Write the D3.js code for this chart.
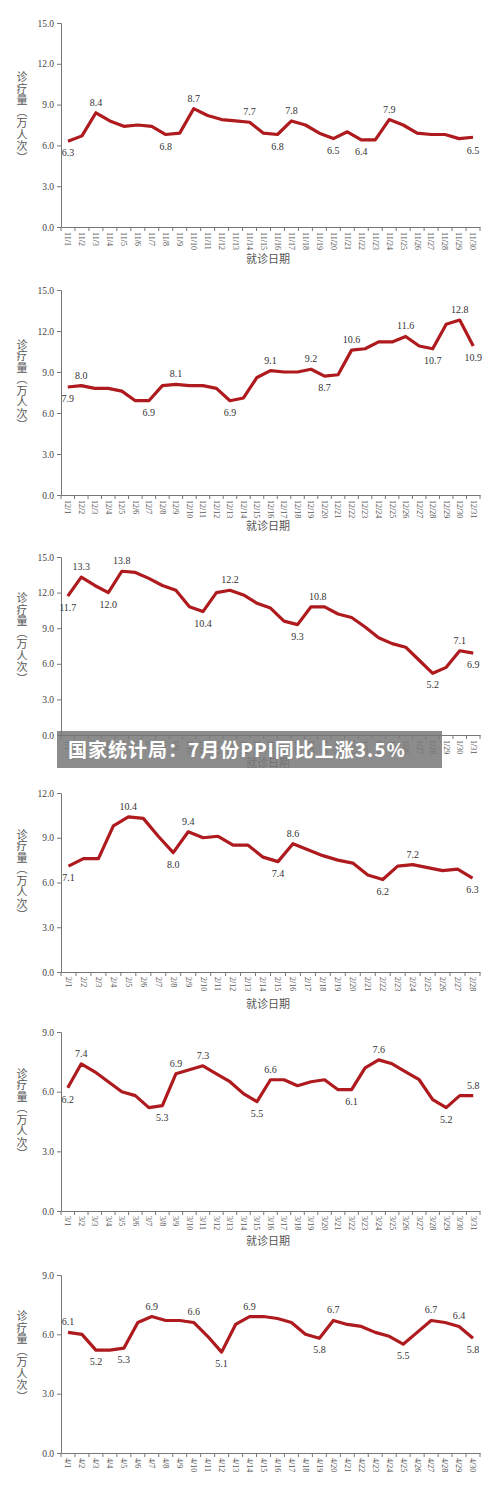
<!DOCTYPE html>
<html><head><meta charset="utf-8">
<script src="https://cdn.jsdelivr.net/npm/d3@7"></script>
<style>body{margin:0;background:#fff}svg{display:block}</style>
</head><body>
<svg id="c" width="500" height="1501"></svg>
<script>
const months = ["11","12","1","2","3","4"];
const dayCounts = [30,31,31,28,31,30];
const yMaxes = [15,15,15,12,9,9];
const v11 = [6.3,6.7,8.4,7.8,7.4,7.5,7.4,6.8,6.9,8.7,8.2,7.9,7.8,7.7,6.9,6.8,7.8,7.5,6.9,6.5,7.0,6.4,6.4,7.9,7.5,6.9,6.8,6.8,6.5,6.6];
const v12 = [7.9,8.0,7.8,7.8,7.6,6.9,6.9,8.0,8.1,8.0,8.0,7.8,6.9,7.1,8.6,9.1,9.0,9.0,9.2,8.7,8.8,10.6,10.7,11.2,11.2,11.6,10.9,10.7,12.5,12.8,10.9];
const v1 = [11.7,13.3,12.6,12.0,13.8,13.7,13.2,12.6,12.2,10.8,10.4,12.0,12.2,11.8,11.1,10.7,9.6,9.3,10.8,10.8,10.2,9.9,9.1,8.2,7.7,7.4,6.3,5.2,5.7,7.1,6.9];
const v2 = [7.1,7.6,7.6,9.8,10.4,10.3,9.1,8.0,9.4,9.0,9.1,8.5,8.5,7.7,7.4,8.6,8.2,7.8,7.5,7.3,6.5,6.2,7.1,7.2,7.0,6.8,6.9,6.3];
const v3 = [6.2,7.4,7.0,6.5,6.0,5.8,5.2,5.3,6.9,7.1,7.3,6.9,6.5,5.9,5.5,6.6,6.6,6.3,6.5,6.6,6.1,6.1,7.2,7.6,7.4,7.0,6.6,5.6,5.2,5.8,5.8];
const v4 = [6.1,6.0,5.2,5.2,5.3,6.6,6.9,6.7,6.7,6.6,5.9,5.1,6.5,6.9,6.9,6.8,6.6,6.0,5.8,6.7,6.5,6.4,6.1,5.9,5.5,6.1,6.7,6.6,6.4,5.8];
const seriesValues = [v11,v12,v1,v2,v3,v4];
const labelValues = [
 [6.3,8.4,6.8,8.7,7.7,6.8,7.8,6.5,6.4,7.9,6.5],
 [7.9,8.0,6.9,8.1,6.9,9.1,9.2,8.7,10.6,11.6,10.7,12.8,10.9],
 [11.7,13.3,12.0,13.8,10.4,12.2,9.3,10.8,5.2,7.1,6.9],
 [7.1,10.4,8.0,9.4,7.4,8.6,6.2,7.2,6.3],
 [6.2,7.4,5.3,6.9,7.3,5.5,6.6,6.1,7.6,5.2,5.8],
 [6.1,5.2,5.3,6.9,6.6,5.1,6.9,5.8,6.7,5.5,6.7,6.4,5.8]];
const labelIdx = [
 [0,2,7,9,13,15,16,19,21,23,29],
 [0,1,6,8,12,15,18,19,21,25,27,29,30],
 [0,1,3,4,10,12,17,18.5,27,29,30],
 [0,4,7,8,14,15,21,23,27],
 [0,1,7,8,10,14,15,21,23,28,30],
 [0,2,4,6,9,11,13,18,19,24,26,28,29]];
const labelAbove = [
 [0,1,0,1,1,0,1,0,0,1,0],
 [0,1,0,1,0,1,1,0,1,1,0,1,0],
 [0,1,0,1,0,1,0,1,0,1,0],
 [0,1,0,1,0,1,0,1,0],
 [0,1,0,1,1,0,1,0,1,0,1],
 [1,0,0,1,1,0,1,0,1,0,1,1,0]];
const yTicks = [0,3,6,9,12,15];
const xTitle = "就诊日期";
const yTitleChars = ["诊","疗","量","︵","万","人","次","︶"];
const banner = "国家统计局：7月份PPI同比上涨3.5%";

const panels = [[23,227,263],[290,495,530],[557,735,767],[793,972,1008],[1032,1211,1245],[1275,1453,1489]];
const svg = d3.select("#c");
const serif = "'Liberation Serif','Times New Roman',serif";
const red = "#ae1a1d";

panels.forEach(([top,bot,xt],p)=>{
  const n = dayCounts[p];
  const cats = d3.range(1,n+1).map(d=>months[p]+"/"+d);
  const x = d3.scaleBand().domain(cats).range([61,480]).padding(0);
  const y = d3.scaleLinear().domain([0,yMaxes[p]]).range([bot,top]);
  const g = svg.append("g");
  const ya = g.append("g").attr("transform","translate(61,0)")
    .call(d3.axisLeft(y).tickValues(yTicks.filter(t=>t<=yMaxes[p])).tickFormat(d3.format(".1f")).tickSize(4));
  ya.selectAll("text").attr("font-family",serif).attr("font-size",9.5).attr("fill","#444");
  ya.select(".domain").attr("stroke","#777");
  ya.selectAll("line").attr("stroke","#777");
  const xa = g.append("g").attr("transform",`translate(0,${bot})`).call(d3.axisBottom(x).tickSize(0));
  xa.select(".domain").attr("stroke","#777");
  xa.selectAll(".tick line").remove();
  xa.selectAll(".tick text").attr("font-family",serif).attr("font-size",8).attr("fill","#555")
    .attr("transform","rotate(90)").attr("text-anchor","start").attr("dy","0.33em").attr("x",5).attr("y",0);
  g.selectAll(".bt").data(d3.range(n+1)).join("line")
    .attr("x1",i=>61+i*x.step()).attr("x2",i=>61+i*x.step()).attr("y1",bot).attr("y2",bot+4).attr("stroke","#777");
  if (xt < 1480) g.append("text").attr("x",268).attr("y",xt).attr("text-anchor","middle")
    .attr("font-family","'Noto Sans CJK SC'").attr("font-size",11).attr("fill","#555").text(xTitle);
  const yt = g.append("text").attr("font-family","'Noto Sans CJK SC'").attr("font-size",11).attr("fill","#555").attr("text-anchor","middle");
  const mid = (top+bot)/2 - 8;
  yTitleChars.forEach((c,i)=>yt.append("tspan").attr("x",22).attr("y",mid+(i-yTitleChars.length/2)*11.5+10).text(c));
  const cx = i => x.bandwidth()/2 + 61 + i*x.step();
  const vals = seriesValues[p];
  g.append("path").datum(vals).attr("fill","none").attr("stroke",red).attr("stroke-width",3.2)
    .attr("stroke-linejoin","round").attr("d",d3.line().x((d,i)=>cx(i)).y(d=>y(d)));
  labelIdx[p].forEach((li,k)=>{
    const v = labelValues[p][k];
    const ab = labelAbove[p][k];
    g.append("text").attr("x",cx(li)).attr("y",y(v)+(ab?-7:15)).attr("text-anchor","middle")
      .attr("font-family",serif).attr("font-size",10).attr("fill","#333").text(v.toFixed(1));
  });
});
svg.append("rect").attr("x",57).attr("y",731).attr("width",385).attr("height",37).attr("fill","rgba(120,120,120,0.85)");
svg.append("text").attr("x",68).attr("y",757).attr("font-family","'Noto Sans CJK SC'").attr("font-weight","bold")
  .attr("font-size",19).attr("letter-spacing",1).attr("fill","#fff").text(banner);
</script>
</body></html>
